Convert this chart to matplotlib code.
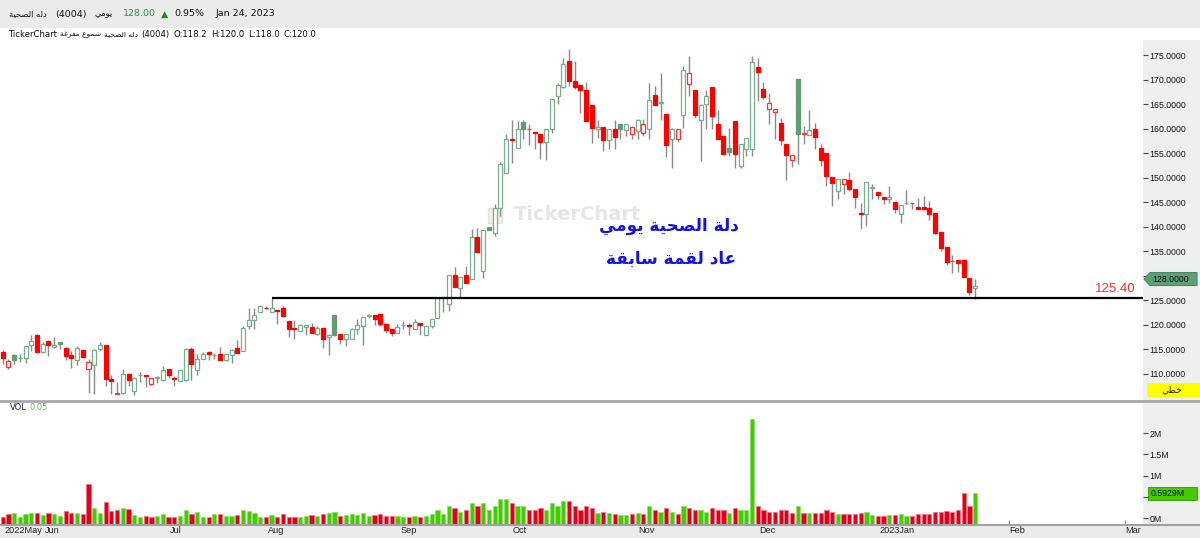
import matplotlib
matplotlib.use("Agg")
import matplotlib.pyplot as plt
from matplotlib.patches import Rectangle, Polygon
from matplotlib.lines import Line2D
from matplotlib.transforms import IdentityTransform
from matplotlib.ticker import FormatStrFormatter

# ---------------- data ----------------
opens = [114.5, 111.5, 113.9, 113.2, 113.3, 115.9, 118.0, 114.55, 116.8, 115.6,
         116.5, 115.4, 113.8, 112.85, 114.9, 111.0, 111.8, 115.0, 116.0, 108.9,
         106.0, 106.2, 110.1, 106.6, 109.8, 109.8, 107.95, 109.2, 108.7, 111.0,
         109.25, 108.6, 108.8, 115.0, 110.75, 113.1, 114.55, 113.9, 114.15, 112.8,
         113.95, 115.4, 114.7, 119.8, 120.95, 122.7, 123.5, 122.7, 123.05, 123.5,
         120.8, 119.4, 118.75, 119.65, 119.6, 118.2, 119.4, 117.6, 122.0, 118.1,
         117.05, 117.05, 119.1, 119.8, 121.8, 122.0, 122.3, 120.1, 119.2, 118.4,
         119.9, 119.9, 119.2, 120.3, 117.95, 119.8, 121.5, 125.55, 124.3, 130.2,
         127.6, 130.2, 129.4, 137.9, 131.1, 140.0, 138.8, 143.9, 150.9, 158.0,
         156.1, 161.3, 159.9, 159.3, 158.9, 157.3, 159.9, 166.7, 168.6, 173.8,
         169.7, 168.9, 168.0, 164.8, 160.0, 160.4, 157.7, 159.9, 160.9, 159.75,
         158.9, 159.5, 159.2, 159.9, 167.0, 165.3, 163.1, 157.85, 158.0, 162.9,
         169.2, 168.0, 161.9, 165.1, 168.5, 160.9, 158.5, 156.1, 161.6, 152.4,
         155.9, 155.9, 172.7, 168.2, 164.0, 163.5, 161.1, 157.0, 153.6, 170.1,
         159.0, 158.8, 159.9, 156.1, 155.0, 150.2, 147.3, 148.7, 149.5, 147.65,
         142.9, 142.55, 148.0, 147.1, 146.0, 145.6, 145.1, 142.7, 144.9, 144.9,
         144.0, 144.0, 143.85, 142.75, 139.0, 136.0, 133.0, 133.2, 133.2, 129.6,
         127.5]
highs = [114.8, 113.0, 114.0, 114.0, 115.8, 117.9, 118.1, 116.6, 116.9, 117.5,
         116.5, 115.5, 114.7, 115.7, 115.0, 113.0, 115.0, 116.6, 116.0, 109.7,
         108.4, 111.0, 110.3, 109.3, 110.5, 109.8, 109.2, 109.6, 111.6, 111.0,
         109.6, 110.9, 115.4, 115.6, 114.0, 114.5, 114.6, 114.35, 115.6, 114.0,
         115.2, 116.9, 119.8, 123.5, 123.5, 124.0, 123.85, 125.4, 123.05, 123.85,
         120.8, 121.0, 120.2, 119.95, 120.5, 119.8, 119.65, 118.2, 122.0, 118.1,
         118.2, 119.3, 121.15, 121.6, 122.3, 122.0, 122.3, 120.1, 119.2, 120.25,
         120.8, 120.45, 121.15, 120.3, 119.8, 121.3, 125.6, 125.6, 130.2, 131.9,
         129.8, 132.0, 139.5, 139.7, 139.3, 140.0, 144.6, 153.2, 158.9, 161.9,
         161.6, 161.9, 160.9, 159.3, 158.9, 159.9, 166.0, 169.4, 174.5, 176.2,
         173.8, 168.9, 169.5, 164.8, 161.9, 160.4, 160.0, 161.9, 160.9, 160.9,
         160.5, 162.1, 162.1, 169.4, 168.7, 171.4, 163.1, 160.2, 160.0, 172.9,
         174.8, 168.0, 165.0, 168.0, 168.5, 163.8, 158.5, 160.2, 161.6, 157.0,
         158.05, 174.8, 174.4, 169.5, 167.4, 164.1, 162.3, 157.0, 154.6, 170.1,
         160.6, 163.8, 161.2, 157.0, 155.0, 150.2, 149.8, 149.7, 151.2, 147.65,
         144.9, 149.1, 148.7, 147.1, 146.0, 148.3, 145.1, 144.4, 147.5, 144.9,
         145.95, 146.3, 145.3, 142.75, 139.0, 136.0, 134.3, 133.2, 133.2, 129.6,
         129.4]
lows = [112.0, 111.0, 112.0, 112.5, 112.3, 114.7, 114.4, 114.35, 113.7, 115.4,
        115.0, 112.85, 111.3, 111.8, 113.4, 106.2, 105.85, 114.7, 107.55, 105.85,
        105.85, 105.85, 107.55, 105.7, 108.4, 107.4, 107.75, 108.2, 108.6, 109.1,
        107.55, 108.5, 108.6, 108.8, 109.8, 113.0, 112.8, 113.1, 112.8, 112.7,
        112.3, 114.3, 114.6, 119.25, 119.1, 122.65, 123.2, 122.7, 120.25, 121.6,
        117.55, 117.1, 118.7, 118.0, 118.3, 118.0, 115.4, 113.8, 117.7, 116.2,
        115.7, 117.05, 118.1, 115.9, 121.5, 119.9, 119.8, 118.4, 117.7, 118.4,
        119.1, 117.9, 119.1, 117.9, 117.9, 119.45, 121.4, 122.6, 122.85, 127.8,
        125.7, 128.6, 129.4, 134.9, 129.6, 139.3, 138.1, 142.2, 150.9, 153.1,
        156.1, 157.85, 156.8, 155.8, 153.8, 153.6, 159.2, 165.0, 168.4, 168.7,
        168.2, 163.2, 161.6, 157.1, 158.1, 155.5, 155.8, 155.9, 157.85, 158.5,
        157.85, 157.85, 158.6, 157.85, 164.8, 161.9, 154.3, 152.1, 157.3, 160.2,
        166.8, 162.3, 153.4, 159.9, 159.9, 158.0, 154.8, 154.4, 152.1, 152.0,
        154.4, 154.5, 165.7, 166.0, 160.9, 157.85, 156.8, 149.5, 152.3, 152.75,
        157.0, 158.8, 155.8, 152.4, 148.3, 144.25, 145.7, 146.8, 147.3, 143.9,
        139.5, 140.2, 145.6, 145.6, 144.6, 144.8, 142.9, 140.8, 144.6, 143.7,
        143.6, 143.6, 141.5, 138.6, 135.1, 132.2, 130.7, 130.8, 129.8, 126.2,
        125.3]
closes = [113.3, 112.6, 112.85, 113.3, 115.8, 116.8, 114.55, 116.2, 115.9, 116.0,
          116.05, 113.7, 113.3, 115.4, 113.5, 112.45, 114.9, 115.9, 108.9, 108.6,
          106.0, 109.9, 108.7, 109.25, 109.8, 109.6, 109.1, 109.3, 110.8, 109.8,
          108.9, 110.8, 115.0, 111.95, 113.1, 114.15, 114.0, 113.9, 112.8, 114.0,
          114.95, 114.35, 119.45, 120.95, 121.95, 123.85, 123.45, 123.45, 122.85, 121.75,
          119.25, 119.1, 119.9, 119.95, 118.35, 119.4, 117.1, 117.9, 118.0, 117.2,
          118.1, 119.2, 119.9, 121.6, 122.1, 121.15, 120.1, 118.9, 118.3, 119.6,
          119.9, 119.85, 120.6, 119.9, 119.8, 121.3, 125.55, 125.55, 130.2, 127.8,
          129.8, 128.6, 137.9, 134.9, 139.3, 139.35, 143.9, 152.75, 158.0, 157.7,
          159.9, 159.95, 159.9, 159.1, 157.3, 159.9, 166.0, 169.0, 173.3, 169.7,
          168.6, 168.0, 161.6, 160.2, 160.4, 157.7, 159.9, 158.4, 159.9, 160.9,
          160.4, 161.8, 160.9, 165.8, 164.8, 165.4, 156.8, 160.0, 159.9, 172.0,
          171.4, 162.9, 164.85, 166.8, 162.7, 158.0, 154.9, 155.3, 154.9, 157.0,
          158.05, 173.7, 171.6, 166.5, 165.3, 164.1, 157.7, 154.65, 154.6, 159.0,
          159.0, 159.75, 158.4, 153.6, 150.4, 149.0, 149.8, 149.7, 147.65, 146.1,
          142.55, 149.1, 148.0, 146.5, 145.6, 146.0, 143.7, 144.4, 144.9, 144.9,
          143.7, 143.7, 142.55, 138.7, 135.6, 132.9, 133.0, 132.7, 129.8, 126.7,
          128.0]
# direction versus previous close: g = up (green), r = down (red)
dirs = ("rrggggrgrg" "grrgrrggrr" "rgrggrrggr" "rggrggrgrg" "grggggrgrr"
        "rrggrgrggr" "gggggrrrrg" "grgrgggggr" "grgrgggggr" "ggrrrggggr"
        "rrrrgrgrgg" "rgrgrgrgrg" "rrggrrrgrg" "ggrrrrrrrg" "rgrrrrgrrr"
        "rggrrgrggr" "rrrrrrrrrr" "g")
volumes = [0.04, 0.09, 0.12, 0.04, 0.09, 0.12, 0.13, 0.08, 0.13, 0.09,
           0.05, 0.16, 0.12, 0.12, 0.10, 0.80, 0.24, 0.13, 0.39, 0.17,
           0.20, 0.25, 0.22, 0.08, 0.04, 0.05, 0.04, 0.05, 0.09, 0.04,
           0.04, 0.05, 0.20, 0.09, 0.15, 0.02, 0.04, 0.09, 0.09, 0.05,
           0.05, 0.08, 0.20, 0.17, 0.12, 0.02, 0.02, 0.08, 0.04, 0.09,
           0.04, 0.04, 0.04, 0.06, 0.08, 0.06, 0.10, 0.12, 0.15, 0.06,
           0.08, 0.10, 0.08, 0.12, 0.06, 0.08, 0.10, 0.06, 0.06, 0.05,
           0.04, 0.04, 0.06, 0.04, 0.06, 0.10, 0.20, 0.10, 0.30, 0.25,
           0.15, 0.20, 0.35, 0.30, 0.35, 0.20, 0.30, 0.45, 0.45, 0.35,
           0.30, 0.30, 0.20, 0.20, 0.25, 0.20, 0.35, 0.30, 0.40, 0.40,
           0.30, 0.20, 0.30, 0.25, 0.12, 0.15, 0.12, 0.10, 0.08, 0.08,
           0.10, 0.12, 0.10, 0.30, 0.20, 0.15, 0.25, 0.15, 0.10, 0.30,
           0.25, 0.20, 0.20, 0.15, 0.25, 0.20, 0.20, 0.12, 0.25, 0.20,
           0.20, 2.33, 0.30, 0.20, 0.15, 0.15, 0.20, 0.20, 0.12, 0.30,
           0.12, 0.12, 0.12, 0.12, 0.20, 0.15, 0.10, 0.10, 0.10, 0.10,
           0.12, 0.15, 0.08, 0.06, 0.06, 0.08, 0.08, 0.10, 0.06, 0.06,
           0.10, 0.10, 0.10, 0.15, 0.15, 0.18, 0.15, 0.20, 0.60, 0.30,
           0.5929]
month_pos = [0.3, 7.3, 29.3, 46.4, 69.5, 89.2, 111.1, 132.2, 153.2, 176.0, 196.2]
month_labels = ["2022May", "Jun", "Jul", "Aug", "Sep", "Oct", "Nov", "Dec",
                "2023Jan", "Feb", "Mar"]
price_ticks = [110, 115, 120, 125, 130, 135, 140, 145, 150, 155, 160, 165, 170, 175]
vol_ticks = [0, 0.5, 1.0, 1.5, 2.0]
vol_tick_labels = ["0M", "", "1M", "1.5M", "2M"]
support_level = 125.40
support_start = 47
last_close = 128.00

# ---------------- Arabic shaping (presentation forms, visual order) ----------------
_AR = {
    'ا': (0xFE8D, 0xFE8E, None, None), 'ب': (0xFE8F, 0xFE90, 0xFE91, 0xFE92),
    'ة': (0xFE93, 0xFE94, None, None), 'ت': (0xFE95, 0xFE96, 0xFE97, 0xFE98),
    'ج': (0xFE9D, 0xFE9E, 0xFE9F, 0xFEA0), 'ح': (0xFEA1, 0xFEA2, 0xFEA3, 0xFEA4),
    'خ': (0xFEA5, 0xFEA6, 0xFEA7, 0xFEA8), 'د': (0xFEA9, 0xFEAA, None, None),
    'ر': (0xFEAD, 0xFEAE, None, None), 'ز': (0xFEAF, 0xFEB0, None, None),
    'س': (0xFEB1, 0xFEB2, 0xFEB3, 0xFEB4), 'ش': (0xFEB5, 0xFEB6, 0xFEB7, 0xFEB8),
    'ص': (0xFEB9, 0xFEBA, 0xFEBB, 0xFEBC), 'ط': (0xFEC1, 0xFEC2, 0xFEC3, 0xFEC4),
    'ع': (0xFEC9, 0xFECA, 0xFECB, 0xFECC), 'غ': (0xFECD, 0xFECE, 0xFECF, 0xFED0),
    'ف': (0xFED1, 0xFED2, 0xFED3, 0xFED4), 'ق': (0xFED5, 0xFED6, 0xFED7, 0xFED8),
    'ك': (0xFED9, 0xFEDA, 0xFEDB, 0xFEDC), 'ل': (0xFEDD, 0xFEDE, 0xFEDF, 0xFEE0),
    'م': (0xFEE1, 0xFEE2, 0xFEE3, 0xFEE4), 'ن': (0xFEE5, 0xFEE6, 0xFEE7, 0xFEE8),
    'ه': (0xFEE9, 0xFEEA, 0xFEEB, 0xFEEC), 'و': (0xFEED, 0xFEEE, None, None),
    'ي': (0xFEF1, 0xFEF2, 0xFEF3, 0xFEF4),
}


def shape(text):
    out = []
    n = len(text)
    for i, ch in enumerate(text):
        if ch not in _AR:
            out.append(ch)
            continue
        f = _AR[ch]
        prev = text[i - 1] if i > 0 else None
        nxt = text[i + 1] if i < n - 1 else None
        jp = prev in _AR and _AR[prev][2] is not None
        jn = nxt in _AR and f[2] is not None
        if jp and jn:
            cp = f[3]
        elif jp:
            cp = f[1]
        elif jn:
            cp = f[2]
        else:
            cp = f[0]
        out.append(chr(cp))
    return "".join(reversed(out))


# ---------------- figure ----------------
W, H = 1200, 538
fig = plt.figure(figsize=(12, 5.38), dpi=100)
fig.patch.set_facecolor("white")
renderer = fig.canvas.get_renderer()


def fx(px):
    return px / W


def fy(py):
    return 1 - py / H


def place_row(items, x0, ypx):
    """items: (text, fontsize, color, gap_after_px)"""
    x = x0
    for text, fs, color, gap in items:
        t = fig.text(x / W, fy(ypx), text, ha="left", va="center", fontsize=fs,
                     color=color, family="DejaVu Sans")
        bb = t.get_window_extent(renderer)
        x = bb.x1 + gap


# backgrounds
fig.add_artist(Rectangle((0, fy(28)), 1, 28 / H, transform=fig.transFigure,
                         facecolor="#ebebeb", edgecolor="none", zorder=-5))
fig.add_artist(Rectangle((fx(1143), fy(524)), 1 - fx(1143), (524 - 40) / H,
                         transform=fig.transFigure, facecolor="#efefef",
                         edgecolor="none", zorder=-5))
fig.add_artist(Rectangle((0, 0), 1, 14 / H, transform=fig.transFigure,
                         facecolor="#ebebeb", edgecolor="none", zorder=-5))

XMIN, XMAX = -0.472, 199.35
ax = fig.add_axes([0, fy(400), fx(1143), fy(42) - fy(400)])
ax.set_xlim(XMIN, XMAX)
ax.set_ylim(104.697, 177.713)
ax.patch.set_alpha(0)
for s in ax.spines.values():
    s.set_visible(False)

GREEN = "#5f9d74"
GREEN_H = "#78b08e"
RED = "#ff0000"
RED_H = "#ff3333"
WICK = "#8a8a8a"
BW = 0.7

# watermark
ax.text(fx(578), fy(215), "TickerChart", transform=fig.transFigure, ha="center",
        va="center", fontsize=14, fontweight="bold", color="#e6e6e6", zorder=0)
ax.add_patch(Rectangle((fx(488), fy(223)), 14 / W, 15 / H, transform=fig.transFigure,
                       facecolor="#f3eee0", edgecolor="#e2e2e2", lw=1, zorder=0))

for i in range(len(opens)):
    o, h, l, c, d = opens[i], highs[i], lows[i], closes[i], dirs[i]
    ax.vlines(i, l, h, color=WICK, lw=1.0, zorder=2)
    bottom = min(o, c)
    height = max(abs(c - o), 0.06)
    filled = c < o
    if d == "g":
        col = GREEN if filled else GREEN_H
    else:
        col = RED if filled else RED_H
    ax.add_patch(Rectangle((i - BW / 2, bottom), BW, height,
                           facecolor=col if filled else "white",
                           edgecolor=col, lw=0.9, zorder=3))

# support line
ax.hlines(support_level, support_start, XMAX, color="black", lw=1.6, zorder=4)
ax.annotate(f"{support_level:.2f}", xy=(1.0, support_level),
            xycoords=("axes fraction", "data"), xytext=(-5, 2.5),
            textcoords="offset points", ha="right", va="bottom",
            color="#ff2b2b", fontsize=9.5, family="Liberation Sans")

ax.set_xticks([])
ax.yaxis.tick_right()
ax.set_yticks(price_ticks)
ax.yaxis.set_major_formatter(FormatStrFormatter("%.4f"))
ax.tick_params(axis="y", length=3.5, width=0.8, color="#444444", pad=1.2,
               labelsize=6.3, labelcolor="#1a1a1a")
for t in ax.get_yticklabels():
    t.set_family("Liberation Sans")

# annotation text (blue, Arabic)
fig.text(fx(669), fy(226), shape("دلة الصحية يومي"), ha="center", va="center",
         color="#1212e6", fontsize=12.2, fontweight="bold", family="DejaVu Sans")
fig.text(fx(671), fy(259), shape("عاد لقمة سابقة"), ha="center", va="center",
         color="#1212e6", fontsize=12.2, fontweight="bold", family="DejaVu Sans")

# last price marker
ly = ax.transData.transform((0, last_close))[1] + 6.7
pts = [(1144, ly), (1150, ly + 6.5), (1197, ly + 6.5), (1197, ly - 6.5), (1150, ly - 6.5)]
fig.add_artist(Polygon(pts, closed=True, transform=IdentityTransform(),
                       facecolor="#5e9e78", edgecolor="#4a8a62", lw=0.8, zorder=6))
fig.text(1152 / W, ly / H, f"{last_close:.4f}", ha="left", va="center",
         fontsize=6.3, color="#111111", family="Liberation Sans", zorder=7)

# yellow box
fig.add_artist(Rectangle((fx(1147), fy(397)), 53 / W, 14 / H, transform=fig.transFigure,
                         facecolor="#ffff00", edgecolor="none", zorder=6))
fig.text(fx(1172), fy(390), shape("خطي"), ha="center", va="center", fontsize=6.5,
         color="#222222", family="DejaVu Sans", zorder=7)

# ---------------- volume panel ----------------
VMIN, VMAX = -0.134, 2.730
axv = fig.add_axes([0, fy(524), fx(1143), fy(402) - fy(524)])
axv.set_xlim(XMIN, XMAX)
axv.set_ylim(VMIN, VMAX)
axv.patch.set_alpha(0)
for s in axv.spines.values():
    s.set_visible(False)
vx = list(range(len(volumes)))
vcol = ["#44cc00" if d == "g" else "#e00018" for d in dirs]
vedge = ["#90e070" if d == "g" else "#f07585" for d in dirs]
axv.bar(vx, [v - VMIN for v in volumes], bottom=VMIN, width=0.74, color=vcol,
        edgecolor=vedge, linewidth=0.6, zorder=2)
axv.yaxis.tick_right()
axv.set_yticks(vol_ticks)
axv.set_yticklabels(vol_tick_labels)
axv.tick_params(axis="y", length=3.5, width=0.8, color="#444444", pad=1.2,
                labelsize=6.3, labelcolor="#1a1a1a")
axv.set_xticks(month_pos)
axv.set_xticklabels(month_labels)
axv.tick_params(axis="x", direction="in", length=3, width=0.8, color="#9a9a9a",
                pad=1.5, labelsize=6.6, labelcolor="#222222")
for t in axv.get_xticklabels():
    t.set_ha("left")
    t.set_family("Liberation Sans")
for t in axv.get_yticklabels():
    t.set_family("Liberation Sans")

vy = axv.transData.transform((0, volumes[-1]))[1]
fig.add_artist(Rectangle((1148, vy - 6.5), 49, 13, transform=IdentityTransform(),
                         facecolor="#44cc00", edgecolor="#2e9a00", lw=0.6, zorder=6))
fig.text(1151 / W, vy / H, f"{volumes[-1]:.4f}M", ha="left", va="center",
         fontsize=6.3, color="#111111", family="Liberation Sans", zorder=7)

axv.text(fx(10), fy(407), "VOL", transform=fig.transFigure, ha="left", va="center",
         fontsize=6, color="#202050")
axv.text(fx(30), fy(407), "0.05", transform=fig.transFigure, ha="left", va="center",
         fontsize=6, color="#55cc33")

# separators
fig.add_artist(Line2D([0, 1], [fy(401), fy(401)], transform=fig.transFigure,
                      color="#a8a8a8", lw=2, zorder=5))
fig.add_artist(Line2D([0, 1], [fy(524.5), fy(524.5)], transform=fig.transFigure,
                      color="#a0a0a0", lw=1.5, zorder=5))

# ---------------- header texts ----------------
place_row([(shape("دله الصحية"), 6.0, "#111111", 8),
           ("(4004)", 6.8, "#111111", 8),
           (shape("يومي"), 6.0, "#111111", 10),
           ("128.00", 6.8, "#2e9a2e", 5),
           ("▲", 6.8, "#1e8f1e", 7),
           ("0.95%", 6.8, "#111111", 11),
           ("Jan 24, 2023", 6.8, "#111111", 0)], 9, 14)

place_row([("TickerChart", 6.1, "#111111", 3),
           (shape("شموع مفرغة"), 5.4, "#111111", 3),
           (shape("دله الصحية"), 5.4, "#111111", 3),
           ("(4004)", 6.1, "#111111", 4),
           ("O:118.2", 6.1, "#111111", 4),
           ("H:120.0", 6.1, "#111111", 4),
           ("L:118.0", 6.1, "#111111", 4),
           ("C:120.0", 6.1, "#111111", 0)], 8, 34.5)

fig.savefig("out.png", dpi=100, facecolor="white")
